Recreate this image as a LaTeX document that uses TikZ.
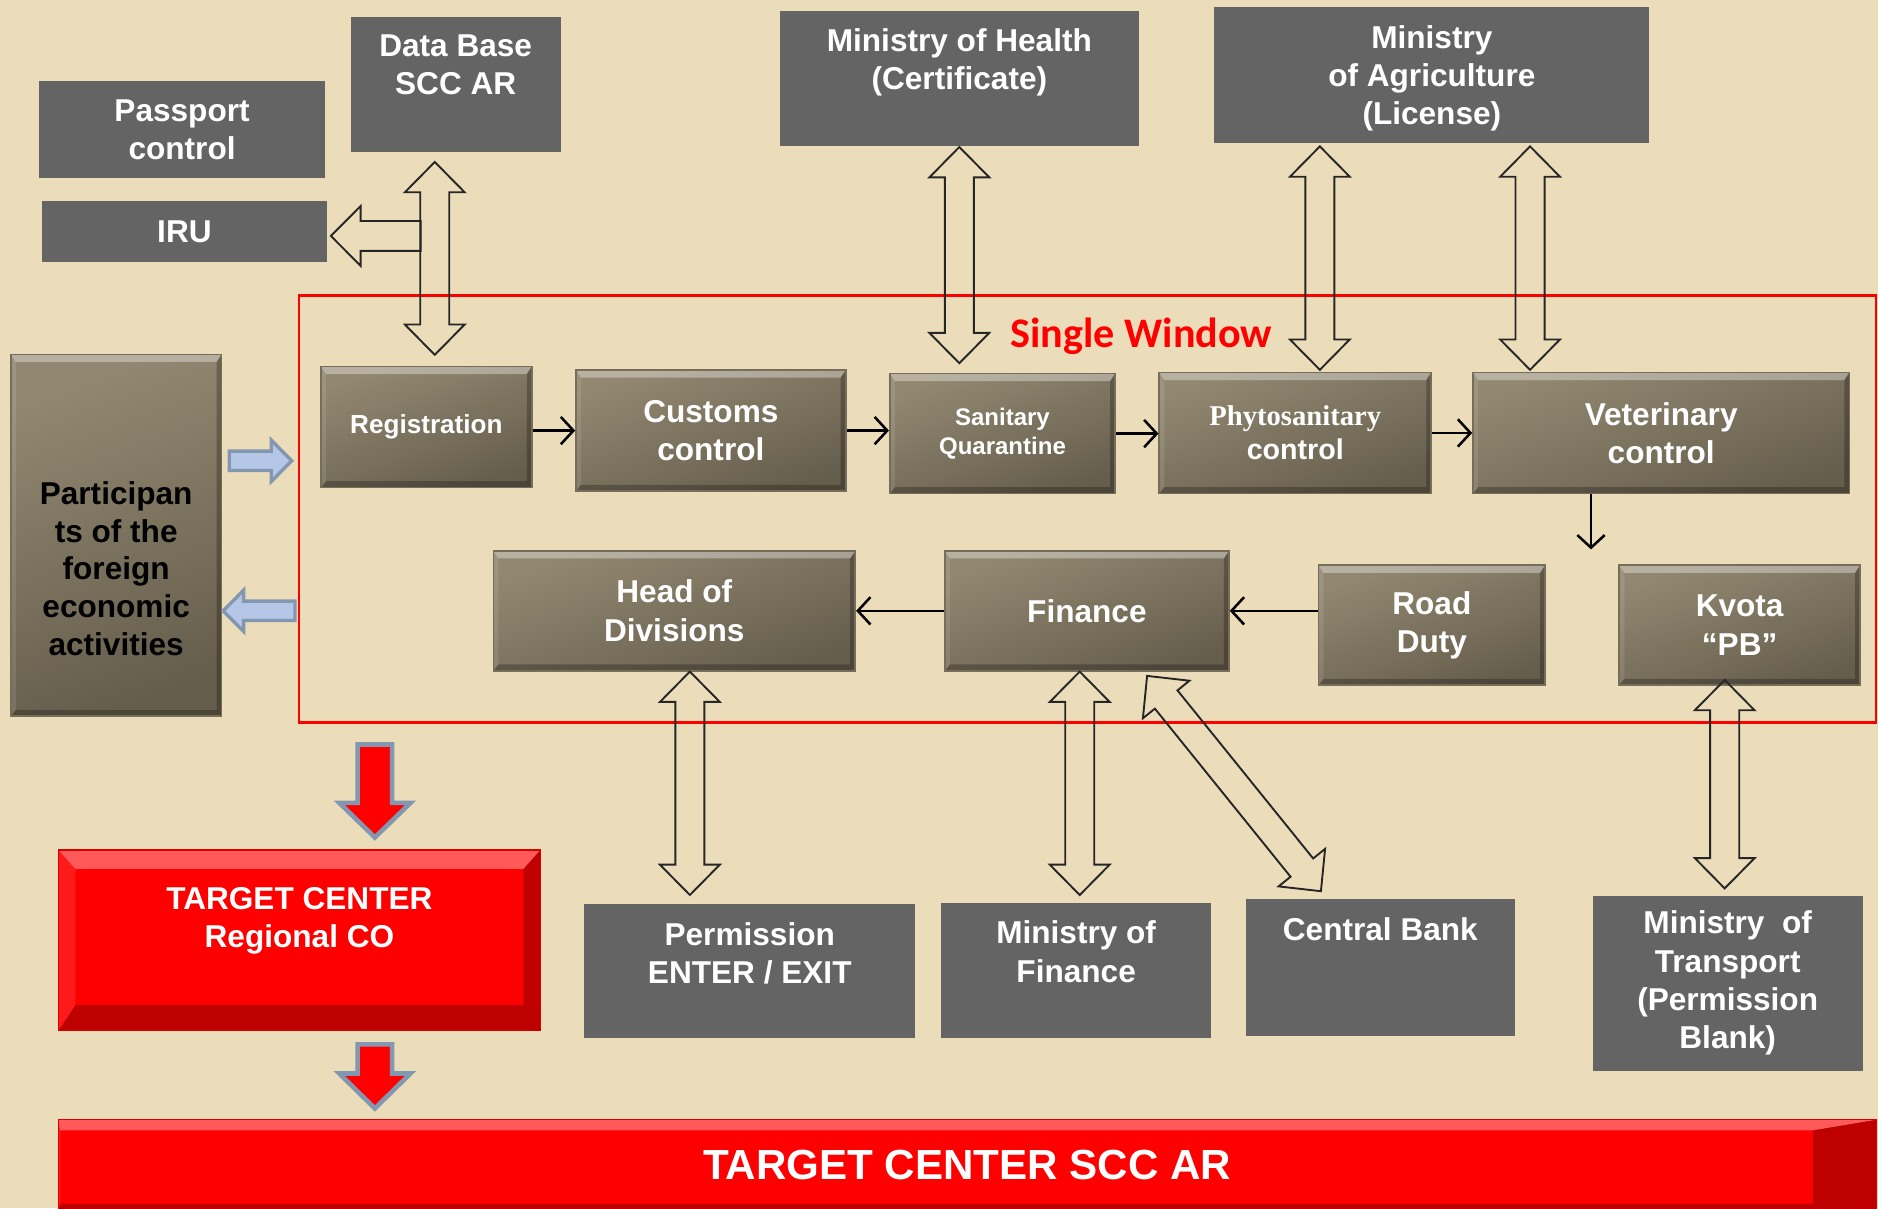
\documentclass[tikz,border=0pt]{standalone}
\usepackage{fontspec}
\setmainfont{Liberation Sans}
\newfontfamily\phytofont{Liberation Serif}
\newfontfamily\swfont{Carlito}
\usetikzlibrary{calc,arrows.meta}

\definecolor{parchment}{RGB}{236,221,186}
\definecolor{boxgray}{RGB}{100,100,100}
\definecolor{browntop}{RGB}{146,136,113}
\definecolor{brownbot}{RGB}{102,94,77}
\definecolor{brownedge}{RGB}{118,110,90}
\definecolor{steelfill}{RGB}{180,199,231}
\definecolor{steeledge}{RGB}{132,151,176}

% length and angle from one point to another
\newcommand{\arrowdir}[2]{%
  \coordinate (ar-a) at #1;
  \coordinate (ar-b) at #2;
  \path let \p1=(ar-a), \p2=(ar-b) in
    \pgfextra{\pgfmathsetmacro{\arlen}{veclen(\x2-\x1,\y2-\y1)}%
      \pgfmathsetmacro{\arang}{atan2(\y2-\y1,\x2-\x1)}%
      \xdef\arlen{\arlen}\xdef\arang{\arang}};%
}
% wide hollow arrow with two heads
\newcommand{\dblarrow}[2]{%
  \arrowdir{#1}{#2}
  \draw[hollowarrow, shift={(ar-a)}, rotate=\arang]
    (0pt,0pt) -- (7.2pt,7.1pt) -- (7.2pt,3.45pt) -- ({\arlen pt-7.2pt},3.45pt)
    -- ({\arlen pt-7.2pt},7.1pt) -- ({\arlen pt},0pt) -- ({\arlen pt-7.2pt},-7.1pt)
    -- ({\arlen pt-7.2pt},-3.45pt) -- (7.2pt,-3.45pt) -- (7.2pt,-7.1pt) -- cycle;
}
% wide arrow with one head: style, from, to, shaft, head, head length
\newcommand{\sglarrow}[6]{%
  \arrowdir{#2}{#3}
  \draw[#1, shift={(ar-a)}, rotate=\arang]
    (0pt,#4) -- ({\arlen pt-#6},#4) -- ({\arlen pt-#6},#5) -- ({\arlen pt},0pt)
    -- ({\arlen pt-#6},-#5) -- ({\arlen pt-#6},-#4) -- (0pt,-#4) -- cycle;
}

\begin{document}
\begin{tikzpicture}[x=0.01cm, y=-0.01cm,
    graybox/.style={fill=boxgray, inner sep=0pt},
    boxtext/.style={text=white, font=\fontsize{7.5}{9.1}\selectfont\bfseries, align=center, inner sep=0pt},
    toptext/.style={boxtext, anchor=north, yshift=-0.15cm},
    darktext/.style={boxtext, text=black, font=\fontsize{7.5}{9}\selectfont\bfseries},
    bevelband/.style n args={4}{path picture={
      \fill[white, opacity=0.35] (path picture bounding box.north west) -- (path picture bounding box.north east)
        -- ([xshift=-#2, yshift=-#1]path picture bounding box.north east) -- ([xshift=#4, yshift=-#1]path picture bounding box.north west) -- cycle;
      \fill[black, opacity=0.25] (path picture bounding box.south west) -- (path picture bounding box.south east)
        -- ([xshift=-#2, yshift=#3]path picture bounding box.south east) -- ([xshift=#4, yshift=#3]path picture bounding box.south west) -- cycle;
      \fill[black, opacity=0.25] (path picture bounding box.north east) -- (path picture bounding box.south east)
        -- ([xshift=-#2, yshift=#3]path picture bounding box.south east) -- ([xshift=-#2, yshift=-#1]path picture bounding box.north east) -- cycle;
      \fill[white, opacity=0.1] (path picture bounding box.north west) -- (path picture bounding box.south west)
        -- ([xshift=#4, yshift=#3]path picture bounding box.south west) -- ([xshift=#4, yshift=-#1]path picture bounding box.north west) -- cycle;
    }},
    brownbox/.style={draw=brownedge, line width=0.4pt, top color=browntop, bottom color=brownbot,
      shading angle=20, bevelband={1.8pt}{1.2pt}{1.5pt}{1.2pt}, boxtext},
    redbox/.style={fill=red, draw=red!85!black, line width=0.3pt, inner sep=0pt},
    flow/.style={-{Straight Barb[length=3pt,width=6.5pt]}, line width=0.6pt},
    hollowarrow/.style={draw=black!85, line width=0.45pt},
    bluearrow/.style={draw=steeledge, fill=steelfill, line width=0.8pt},
    redarrow/.style={draw=steeledge, fill=red, line width=1.1pt}]

  % parchment background
  \fill[parchment] (0,0) rectangle (1568,1009);
  \useasboundingbox (0,0) rectangle (1568,1009);

  % Single Window frame
  \node[draw=red, line width=0.6pt, minimum width=13.16cm, minimum height=3.56cm, inner sep=0pt] (sw) at (908,425) {};
  \node[text=red, font=\fontsize{10}{12}\selectfont\swfont\bfseries] (swt) at (953,281) {Single Window};

  % outside services, top
  \node[graybox, boxtext, minimum width=2.38cm, minimum height=0.81cm] (pass) at (152,108.5) {Passport\\control};
  \node[graybox, boxtext, minimum width=2.38cm, minimum height=0.51cm] (iru) at (154,193.5) {IRU};
  \node[graybox, minimum width=1.75cm, minimum height=1.13cm,
    label={[toptext]north:{Data Base\\SCC AR}}] (db) at (380.5,70.5) {};
  \node[graybox, minimum width=3.00cm, minimum height=1.13cm,
    label={[toptext]north:{Ministry of Health\\(Certificate)}}] (health) at (801,65.5) {};
  \node[graybox, minimum width=3.63cm, minimum height=1.13cm,
    label={[toptext]north:{Ministry\\of Agriculture\\(License)}}] (agri) at (1195.5,62.5) {};

  % outside services, bottom
  \node[graybox, minimum width=2.76cm, minimum height=1.12cm,
    label={[toptext]north:{Permission\\ENTER / EXIT}}] (perm) at (626,811) {};
  \node[graybox, minimum width=2.25cm, minimum height=1.13cm,
    label={[toptext]north:{Ministry of\\Finance}}] (mof) at (898.5,810.5) {};
  \node[graybox, minimum width=2.25cm, minimum height=1.14cm,
    label={[toptext]north:{Central Bank}}] (cb) at (1152.5,808) {};
  \node[graybox, boxtext, minimum width=2.25cm, minimum height=1.46cm] (mot) at (1442.5,821)
    {Ministry~ of\\Transport\\(Permission\\Blank)};

  % participants
  \node[brownbox, minimum width=1.76cm, minimum height=3.02cm,
    label={[darktext, anchor=center, yshift=-1.795cm]north:{Participan\\ts of the\\foreign\\economic\\activities}}] (part) at (97,447) {};

  % single window steps
  \node[brownbox, minimum width=1.76cm, minimum height=1.01cm, font=\fontsize{6.2}{7.5}\selectfont\bfseries] (reg) at (356,356.5) {Registration};
  \node[brownbox, minimum width=2.25cm, minimum height=1.01cm] (cus) at (593.5,359.5) {Customs\\control};
  \node[brownbox, minimum width=1.88cm, minimum height=1.00cm, font=\fontsize{5.7}{6.8}\selectfont\bfseries] (san) at (837,362) {Sanitary\\Quarantine};
  \node[brownbox, minimum width=2.27cm, minimum height=1.01cm, font=\fontsize{6.8}{8}\selectfont\bfseries] (phy) at (1081.5,361.5) {{\phytofont Phytosanitary}\\control};
  \node[brownbox, minimum width=3.14cm, minimum height=1.01cm] (vet) at (1387,361.5) {Veterinary\\control};
  \node[brownbox, minimum width=3.02cm, minimum height=1.00cm] (hod) at (563,510) {Head of\\Divisions};
  \node[brownbox, minimum width=2.37cm, minimum height=1.00cm] (fin) at (907.5,510) {Finance};
  \node[brownbox, minimum width=1.89cm, minimum height=1.00cm] (road) at (1195.5,522) {Road\\Duty};
  \node[brownbox, minimum width=2.01cm, minimum height=1.00cm] (kvota) at (1452.5,522) {Kvota\\“PB”};

  % target centers
  \node[redbox, bevelband={4.5pt}{4pt}{6pt}{4pt}, minimum width=4.02cm, minimum height=1.505cm,
    label={[boxtext, anchor=north, yshift=-0.31cm]north:{TARGET CENTER\\Regional CO}}] (tcr) at (250,785) {};
  \node[redbox, bevelband={2.5pt}{15pt}{1.7pt}{0.5pt}, minimum width=15.17cm, minimum height=0.76cm,
    text=white, font=\fontsize{10}{12}\selectfont\bfseries] (tcb) at (807.5,973) {TARGET CENTER SCC AR};

  % flow inside the window
  \draw[flow] (cus.west -| reg.east) -- (cus.west);
  \draw[flow] (cus.east) -- (cus.east -| san.west);
  \draw[flow] (san.east) -- (san.east -| phy.west);
  \draw[flow] (phy.east) -- (phy.east -| vet.west);
  \coordinate (vetend) at ($(vet.south)+(-58.6,46)$);
  \draw[flow] ($(vet.south)+(-58.6,0)$) -- (vetend);
  \draw[flow] (road.west |- fin.east) -- (fin.east);
  \draw[flow] (fin.west) -- (hod.east);

  % exchange with outside services
  \dblarrow{($(db.south)+(-17.5,7.5)$)}{($(reg.north)+(7,-9)$)}
  \sglarrow{hollowarrow}{($(iru.east)+(77.5,3.5)$)}{($(iru.east)+(2.5,3.5)$)}{3.55pt}{7.1pt}{7.05pt}
  \dblarrow{(health.south)}{($(san.north -| health.south)+(0,-8)$)}
  \dblarrow{($(agri.south -| phy.north)+(20.5,2.5)$)}{($(phy.north)+(20.5,-1.5)$)}
  \dblarrow{($(agri.south -| vet.north)+(-109.5,2.5)$)}{($(vet.north)+(-109.5,-1.5)$)}
  \dblarrow{($(hod.south)+(13,0)$)}{($(hod.south |- perm.north)+(13,-7)$)}
  \dblarrow{($(fin.south)+(-6,0)$)}{($(fin.south |- mof.north)+(-6,-6)$)}
  \dblarrow{($(fin.south east)+(-69,3.6)$)}{($(cb.north)+(-49.5,-6)$)}
  \dblarrow{($(kvota.south)+(-12.5,-5)$)}{($(kvota.south |- mot.north)+(-12.5,-5.5)$)}

  % participants in and out
  \sglarrow{bluearrow}{($(part.east)+(5.6,-62.3)$)}{($(sw.west |- part.east)+(-5,-62.3)$)}{2.3pt}{4.9pt}{4.85pt}
  \sglarrow{bluearrow}{($(sw.west |- part.east)+(-2.3,63)$)}{($(part.east)+(0.6,63)$)}{2.3pt}{4.9pt}{4.85pt}

  % down to the target centers
  \sglarrow{redarrow}{($(tcr.north |- sw.south)+(63,17.5)$)}{($(tcr.north)+(63,-10)$)}{4.1pt}{8.45pt}{8.2pt}
  \sglarrow{redarrow}{($(tcr.south)+(63,11.2)$)}{($(tcr.south |- tcb.north)+(63,-9)$)}{4.1pt}{8.45pt}{8.3pt}
\end{tikzpicture}
\end{document}
